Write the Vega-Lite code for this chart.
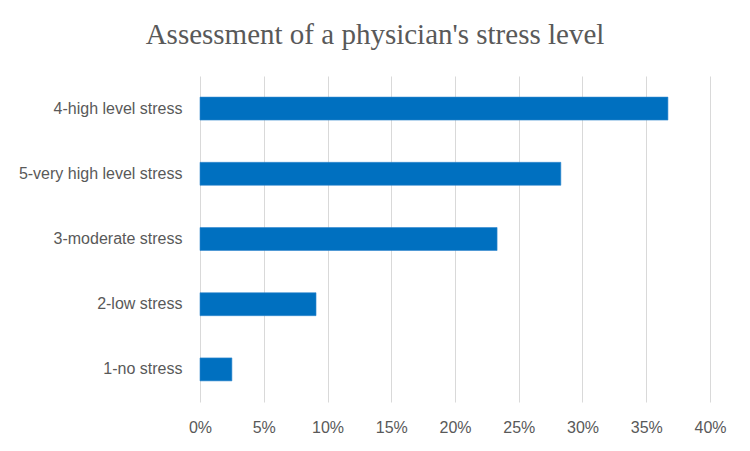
{
  "$schema": "https://vega.github.io/schema/vega-lite/v6.json",
  "autosize": "none",
  "width": 510,
  "height": 326,
  "padding": {"left": 200, "top": 76, "right": 40, "bottom": 49},
  "background": "white",
  "title": {
    "text": "Assessment of a physician's stress level",
    "font": "Liberation Serif",
    "fontSize": 29,
    "fontWeight": "normal",
    "color": "#595959",
    "anchor": "middle",
    "dx": -80,
    "offset": 26
  },
  "data": {
    "values": [
      {"level": "4-high level stress", "share": 0.367},
      {"level": "5-very high level stress", "share": 0.283},
      {"level": "3-moderate stress", "share": 0.233},
      {"level": "2-low stress", "share": 0.091},
      {"level": "1-no stress", "share": 0.025}
    ]
  },
  "mark": {"type": "bar", "color": "#0070C0", "stroke": "#2f86cf", "strokeWidth": 0.6},
  "encoding": {
    "y": {
      "field": "level",
      "type": "nominal",
      "sort": null,
      "scale": {"paddingInner": 0.648, "paddingOuter": 0.324},
      "axis": {
        "title": null,
        "domain": false,
        "ticks": false,
        "labelPadding": 18,
        "labelFont": "Liberation Sans",
        "labelFontSize": 16,
        "labelColor": "#595959"
      }
    },
    "x": {
      "field": "share",
      "type": "quantitative",
      "scale": {"domain": [0, 0.4], "nice": false},
      "axis": {
        "title": null,
        "format": ".0%",
        "values": [0, 0.05, 0.1, 0.15, 0.2, 0.25, 0.3, 0.35, 0.4],
        "domain": false,
        "ticks": false,
        "grid": true,
        "gridColor": "#d9d9d9",
        "gridWidth": 1,
        "labelFlush": false,
        "labelPadding": 17,
        "labelFont": "Liberation Sans",
        "labelFontSize": 16,
        "labelColor": "#595959"
      }
    }
  },
  "config": {"view": {"stroke": null}}
}
